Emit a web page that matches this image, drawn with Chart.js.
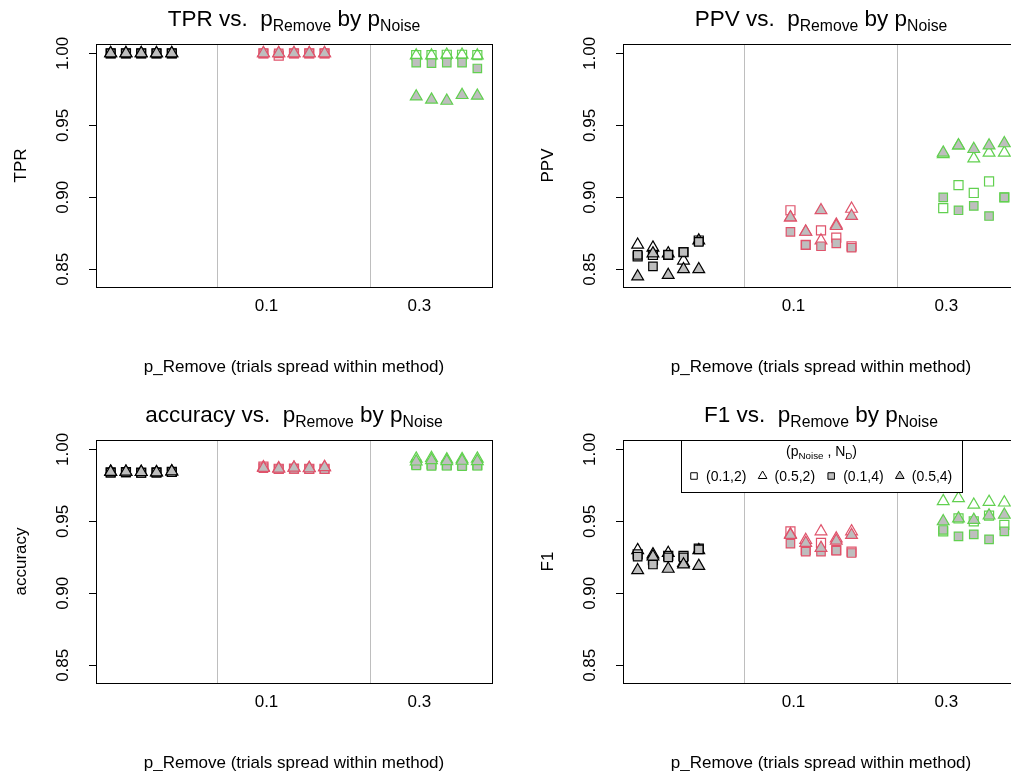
<!DOCTYPE html>
<html>
<head>
<meta charset="utf-8">
<script src="https://cdn.jsdelivr.net/npm/chart.js@4.4.1/dist/chart.umd.min.js"></script>
<style>
  html, body { margin: 0; padding: 0; background: #fff; overflow: hidden; }
  #page { position: relative; width: 1011px; height: 771px; overflow: hidden; background: #fff; }
  canvas { position: absolute; }
</style>
</head>
<body>
<div id="page">
  <canvas id="tpr" width="527" height="396" style="left:0;top:0;width:527px;height:396px"></canvas>
  <canvas id="ppv" width="530" height="396" style="left:527px;top:0;width:530px;height:396px"></canvas>
  <canvas id="acc" width="527" height="396" style="left:0;top:396px;width:527px;height:396px"></canvas>
  <canvas id="f1" width="530" height="396" style="left:527px;top:396px;width:530px;height:396px"></canvas>
</div>
<script>
// p_Remove groups, 5 trials each
const groups = ["0", "0.1", "0.3"]
const groupColors = ["#000000", "#DF536B", "#61D04F"]
const xTickLabels = ["", "0.1", "", "0.3"]
const xTickPos = [1.5, 1.82, 2.5, 2.82]
const yTicks = [0.85, 0.90, 0.95, 1.00]
const series = ["(0.1,2)", "(0.5,2)", "(0.1,4)", "(0.5,4)"]

// TPR
const tpr_01_2 = [1, 1, 1, 1, 1, 1, 0.9985, 1, 1, 1, 0.9988, 0.9988, 0.999, 0.999, 0.9988]
const tpr_05_2 = [1, 1, 1, 1, 1, 1, 1, 1, 1, 1, 0.9985, 0.9985, 0.999, 0.999, 0.9985]
const tpr_01_4 = [1, 1, 1, 1, 1, 1, 1, 1, 1, 1, 0.9935, 0.9932, 0.9935, 0.9935, 0.9895]
const tpr_05_4 = [1, 1, 1, 1, 1, 1, 1, 1, 1, 1, 0.97, 0.9678, 0.967, 0.971, 0.9705]

// PPV
const ppv_01_2 = [0.859, 0.86, 0.86, 0.862, 0.87, 0.891, 0.867, 0.877, 0.872, 0.866, 0.8925, 0.9085, 0.903, 0.911, 0.9]
const ppv_05_2 = [0.867, 0.865, 0.861, 0.856, 0.87, 0.886, 0.876, 0.87, 0.881, 0.892, 0.93, 0.936, 0.927, 0.931, 0.931]
const ppv_01_4 = [0.86, 0.852, 0.86, 0.862, 0.869, 0.876, 0.867, 0.866, 0.868, 0.865, 0.9, 0.891, 0.894, 0.887, 0.9]
const ppv_05_4 = [0.845, 0.861, 0.846, 0.85, 0.85, 0.886, 0.876, 0.891, 0.88, 0.887, 0.931, 0.936, 0.9335, 0.936, 0.9375]

// accuracy
const acc_01_2 = [0.984, 0.9842, 0.9838, 0.984, 0.9843, 0.988, 0.9865, 0.9866, 0.9865, 0.9865, 0.9895, 0.9895, 0.989, 0.9893, 0.989]
const acc_05_2 = [0.9845, 0.9843, 0.9842, 0.9841, 0.9846, 0.9875, 0.9868, 0.9872, 0.987, 0.9875, 0.9935, 0.994, 0.993, 0.9932, 0.9935]
const acc_01_4 = [0.9838, 0.984, 0.9836, 0.9839, 0.9841, 0.987, 0.9862, 0.9864, 0.9863, 0.9862, 0.9888, 0.9885, 0.9886, 0.9884, 0.9886]
const acc_05_4 = [0.9843, 0.9844, 0.9842, 0.984, 0.9847, 0.987, 0.9865, 0.9872, 0.9868, 0.9876, 0.9915, 0.9925, 0.9918, 0.992, 0.9918]

// F1
const f1_01_2 = [0.927, 0.923, 0.926, 0.926, 0.931, 0.943, 0.93, 0.935, 0.93, 0.929, 0.943, 0.952, 0.95, 0.954, 0.9475]
const f1_05_2 = [0.93, 0.927, 0.928, 0.921, 0.93, 0.941, 0.937, 0.943, 0.938, 0.943, 0.964, 0.966, 0.9615, 0.9635, 0.963]
const f1_01_4 = [0.9255, 0.92, 0.925, 0.925, 0.9305, 0.9345, 0.929, 0.929, 0.9297, 0.928, 0.944, 0.9395, 0.941, 0.9375, 0.943]
const f1_05_4 = [0.916, 0.9255, 0.917, 0.92, 0.919, 0.9405, 0.935, 0.9315, 0.9365, 0.9405, 0.95, 0.952, 0.951, 0.954, 0.9545]

const FONT = "'Liberation Sans', Arial, Helvetica, sans-serif"
const GREY = "#bebebe"
const AXIS_SIZE = 17
const TITLE_SIZE = 22.5

// marker look for each series (open/filled square/triangle)
const markers = [
  { shape: "rect", r: 6.4, fill: "rgba(0,0,0,0)", order: 3 },
  { shape: "triangle", r: 6.8, fill: "rgba(0,0,0,0)", order: 2 },
  { shape: "rect", r: 6.0, fill: GREY, order: 1 },
  { shape: "triangle", r: 6.8, fill: GREY, order: 0 }
]

function drawRich(ctx, parts, cx, baseline, size) {
  const sub = size * 0.7
  let total = 0
  parts.forEach(p => {
    ctx.font = (p.sub ? sub : size) + "px " + FONT
    p.w = ctx.measureText(p.t).width
    total += p.w
  })
  let x = cx - total / 2
  ctx.textAlign = "left"
  ctx.textBaseline = "alphabetic"
  parts.forEach(p => {
    ctx.font = (p.sub ? sub : size) + "px " + FONT
    ctx.fillText(p.t, x, baseline + (p.sub ? size * 0.22 : 0))
    x += p.w
  })
}

const rFrame = {
  id: "rFrame",
  afterDraw(chart, args, opts) {
    const { ctx, chartArea: a } = chart
    const y = chart.scales.y
    ctx.save()
    ctx.fillStyle = "#000"
    ctx.strokeStyle = "#000"
    ctx.lineWidth = 1
    ctx.strokeRect(Math.round(a.left) + 0.5, Math.round(a.top) + 0.5, Math.round(a.right - a.left), Math.round(a.bottom - a.top))

    // y tick labels, parallel to the axis
    ctx.font = AXIS_SIZE + "px " + FONT
    ctx.textAlign = "center"
    ctx.textBaseline = "middle"
    yTicks.forEach(v => {
      ctx.save()
      ctx.translate(a.left - 33, y.getPixelForValue(v))
      ctx.rotate(-Math.PI / 2)
      ctx.fillText(v.toFixed(2), 0, 0)
      ctx.restore()
    })

    // y axis title
    ctx.save()
    ctx.translate(a.left - 75, (a.top + a.bottom) / 2)
    ctx.rotate(-Math.PI / 2)
    ctx.fillText(opts.ylab, 0, 0)
    ctx.restore()

    // x axis title
    ctx.textBaseline = "alphabetic"
    ctx.fillText("p_Remove (trials spread within method)", (a.left + a.right) / 2, a.bottom + 85)

    // main title
    drawRich(ctx, [
      { t: opts.ylab + " vs.  " }, { t: "p" }, { t: "Remove", sub: true },
      { t: " by " }, { t: "p" }, { t: "Noise", sub: true }
    ], (a.left + a.right) / 2, a.top - 18, TITLE_SIZE)

    if (opts.legend) {
      const lw = 281, lh = 52
      const lx = Math.round((a.left + a.right) / 2 - lw / 2)
      const ly = Math.round(a.top)
      ctx.fillStyle = "#fff"
      ctx.fillRect(lx, ly, lw, lh)
      ctx.strokeRect(lx + 0.5, ly + 0.5, lw, lh)
      ctx.fillStyle = "#000"
      // legend title (p_Noise , N_D)
      const parts = [{ t: "(" }, { t: "p" }, { t: "Noise", sub: true }, { t: " , N" }, { t: "D", sub: true }, { t: ")" }]
      drawRich(ctx, parts, lx + lw / 2, ly + 16, 14)
      series.forEach((s, i) => {
        const mx = lx + 13 + i * 68.6
        const my = ly + 36
        const m = markers[i]
        ctx.fillStyle = m.fill
        ctx.strokeStyle = "#000"
        ctx.lineWidth = 1
        Chart.helpers.drawPoint(ctx, { pointStyle: m.shape, radius: m.shape === "rect" ? 4.6 : 5, borderWidth: 1, rotation: 0 }, mx, my)
        ctx.fillStyle = "#000"
        ctx.font = "14px " + FONT
        ctx.textAlign = "left"
        ctx.textBaseline = "middle"
        ctx.fillText(s, mx + 12, my + 1)
      })
    }
    ctx.restore()
  }
}

function makeChart(id, ylab, values, legend) {
  const datasets = values.map((vals, si) => ({
    label: series[si],
    data: vals.map((v, i) => ({ x: 1 + Math.floor(i / 5) + ((i % 5) - 2) * 0.1, y: v })),
    pointStyle: markers[si].shape,
    pointRadius: markers[si].r,
    pointBorderWidth: 1.2,
    pointBorderColor: vals.map((v, i) => groupColors[Math.floor(i / 5)]),
    pointBackgroundColor: markers[si].fill,
    showLine: false,
    order: markers[si].order
  }))

  const canvas = document.getElementById(id)
  return new Chart(canvas, {
    type: "scatter",
    data: { datasets },
    options: {
      responsive: false,
      animation: false,
      events: [],
      devicePixelRatio: 1,
      layout: { padding: { left: 86, top: 44, right: canvas.width - 492, bottom: 59 } },
      scales: {
        x: {
          type: "linear",
          min: 0.704,
          max: 3.296,
          afterBuildTicks: s => { s.ticks = xTickPos.map(v => ({ value: v })) },
          afterFit: s => { s.height = 50 },
          grid: {
            color: c => (c.index === 0 || c.index === 2 ? GREY : "rgba(0,0,0,0)"),
            drawTicks: false,
            lineWidth: 1
          },
          border: { display: false },
          ticks: {
            autoSkip: false,
            maxRotation: 0,
            minRotation: 0,
            padding: 9,
            color: "#000",
            font: { size: AXIS_SIZE, family: FONT },
            callback: (v, i) => xTickLabels[i]
          }
        },
        y: {
          min: 0.8377,
          max: 1.0065,
          afterBuildTicks: s => { s.ticks = yTicks.map(v => ({ value: v })) },
          afterFit: s => { s.width = 10 },
          grid: { drawOnChartArea: false, drawTicks: true, tickLength: 7, color: "#000", lineWidth: 1 },
          border: { display: false },
          ticks: { display: false }
        }
      },
      plugins: {
        legend: { display: false },
        tooltip: { enabled: false },
        rFrame: { ylab, legend }
      }
    },
    plugins: [rFrame]
  })
}

makeChart("tpr", "TPR", [tpr_01_2, tpr_05_2, tpr_01_4, tpr_05_4], false)
makeChart("ppv", "PPV", [ppv_01_2, ppv_05_2, ppv_01_4, ppv_05_4], false)
makeChart("acc", "accuracy", [acc_01_2, acc_05_2, acc_01_4, acc_05_4], false)
makeChart("f1", "F1", [f1_01_2, f1_05_2, f1_01_4, f1_05_4], true)
</script>
</body>
</html>
